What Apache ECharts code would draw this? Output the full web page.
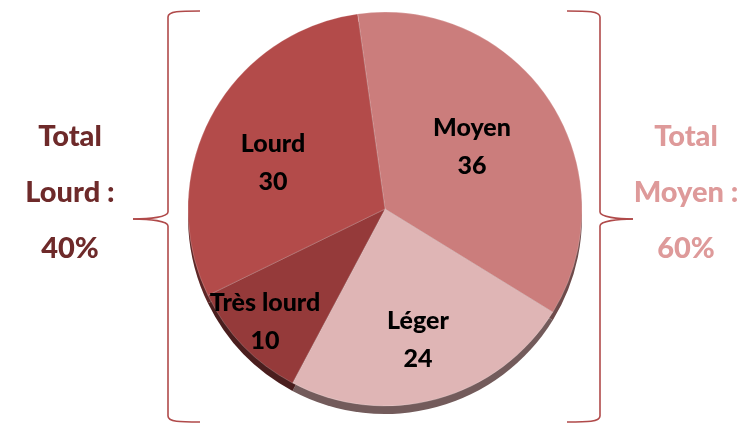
<!DOCTYPE html>
<html><head><meta charset="utf-8">
<script src="https://cdn.jsdelivr.net/npm/echarts@6/dist/echarts.min.js"></script>
<style>html,body{margin:0;padding:0;background:#fff}#c{width:753px;height:424px}</style>
</head><body><div id="c"></div>
<script>
var categories = ['Moyen', 'Léger', 'Très lourd', 'Lourd'];
var values = [36, 24, 10, 30];
var topColors = ['#CB7D7C', '#DFB5B5', '#953A3A', '#B34B4A'];
var sideColors = ['#6E4A4A', '#735B5B', '#4A1E1E', '#5E2626'];
var leftTotal = ['Total', 'Lourd :', '40%'];
var rightTotal = ['Total', 'Moyen :', '60%'];
var labelPos = [[472, 147], [418, 340], [265, 322], [273, 163]];

var chart = echarts.init(document.getElementById('c'));
var font = 'Lato, "Open Sans", sans-serif';
function mk(colors) {
  return categories.map(function (n, i) {
    return { name: n, value: values[i], itemStyle: { color: colors[i] } };
  });
}
var braceColor = '#B04A4A';
function bz(x1, y1, c1x, c1y, c2x, c2y, x2, y2) {
  return { type: 'bezierCurve', shape: { x1: x1, y1: y1, cpx1: c1x, cpy1: c1y, cpx2: c2x, cpy2: c2y, x2: x2, y2: y2 }, style: { stroke: braceColor, lineWidth: 1.6, fill: null } };
}
function ln(x1, y1, x2, y2) {
  return { type: 'line', shape: { x1: x1, y1: y1, x2: x2, y2: y2 }, style: { stroke: braceColor, lineWidth: 1.6 } };
}
function brace(xt, xl, xp, dir) {
  return [
    bz(xt, 11, xt - dir * 20, 11, xl, 11, xl, 17),
    ln(xl, 17, xl, 212),
    bz(xl, 212, xl, 217, xl - dir * 18, 219, xp, 219),
    bz(xp, 219, xl - dir * 18, 219, xl, 221, xl, 226),
    ln(xl, 226, xl, 416),
    bz(xl, 416, xl, 422, xt - dir * 20, 422, xt, 422)
  ];
}
function textEls(arr, x, color) {
  return arr.map(function (t, i) {
    return { type: 'text', x: x, y: 137 + i * 56, style: { text: t, fill: color, font: '900 29px ' + font, textAlign: 'center', textVerticalAlign: 'middle' } };
  });
}
chart.setOption({
  animation: false,
  series: [
    { type: 'pie', center: [385, 217], radius: 197, startAngle: 98, clockwise: true, silent: true,
      label: { show: false }, labelLine: { show: false }, data: mk(sideColors), z: 1 },
    { type: 'pie', center: [385, 209], radius: 197, startAngle: 98, clockwise: true,
      itemStyle: { borderColor: 'rgba(255,255,255,0.35)', borderWidth: 0.6 },
      label: { show: true, position: 'inside', formatter: '{b}\n{c}', color: '#000', fontFamily: font,
        fontWeight: 900, fontSize: 25, lineHeight: 38, align: 'center' },
      labelLine: { show: false },
      labelLayout: function (p) { return { x: labelPos[p.dataIndex][0], y: labelPos[p.dataIndex][1], align: 'center', verticalAlign: 'middle' }; },
      data: mk(topColors), z: 2 }
  ],
  graphic: brace(200, 168, 133, 1).concat(brace(567, 600, 633, -1))
    .concat(textEls(leftTotal, 70, '#6E2A2A')).concat(textEls(rightTotal, 686, '#DE9A9A'))
});
</script></body></html>
